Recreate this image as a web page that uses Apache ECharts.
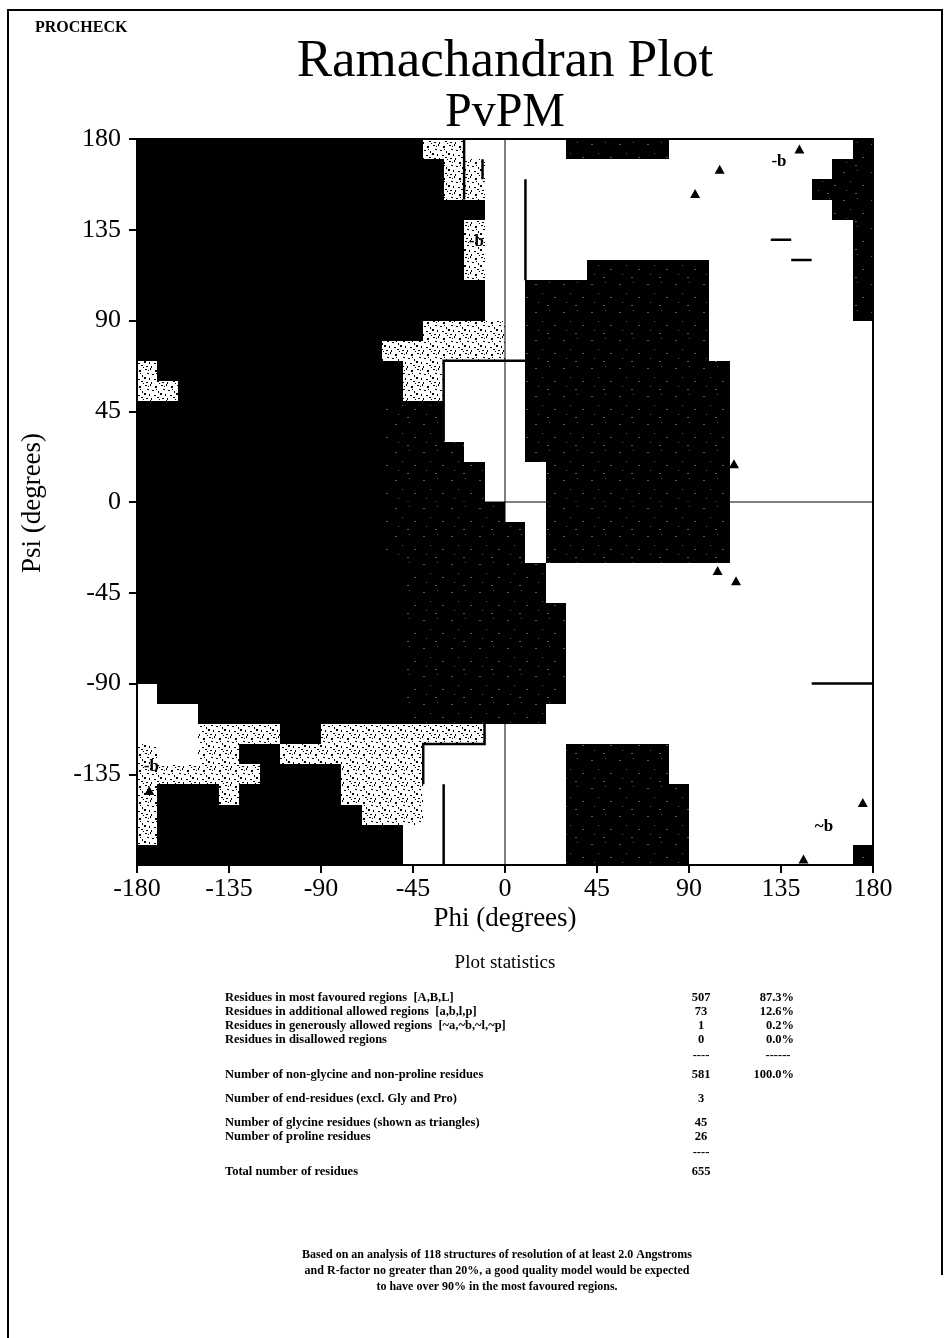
<!DOCTYPE html>
<html><head><meta charset="utf-8">
<script src="https://cdn.jsdelivr.net/npm/echarts@6/dist/echarts.min.js"></script>
<style>html,body{margin:0;padding:0;background:#fff}#c{width:950px;height:1338px}</style>
</head><body><div id="c"></div>
<script>
// ---------------- DATA ----------------
const axisTicks = [-180, -135, -90, -45, 0, 45, 90, 135, 180];
// lower-left phi of each 10-degree column
const phiBins = [-180,-170,-160,-150,-140,-130,-120,-110,-100,-90,-80,-70,-60,-50,-40,-30,-20,-10,0,10,20,30,40,50,60,70,80,90,100,110,120,130,140,150,160,170];
// lower psi of each row (top row first)
const psiBins = [170,160,150,140,130,120,110,100,90,80,70,60,50,40,30,20,10,0,-10,-20,-30,-40,-50,-60,-70,-80,-90,-100,-110,-120,-130,-140,-150,-160,-170,-180];
// region classes: c = most favoured, a = additional allowed, g = generously allowed, . = disallowed
const regionRows = [
  "ccccccccccccccgg.....aaaaa.........a",
  "cccccccccccccccgg.................aa",
  "cccccccccccccccgg................aaa",
  "ccccccccccccccccc.................aa",
  "ccccccccccccccccg..................a",
  "ccccccccccccccccg..................a",
  "ccccccccccccccccg.....aaaaaa.......a",
  "ccccccccccccccccc..aaaaaaaaa.......a",
  "ccccccccccccccccc..aaaaaaaaa.......a",
  "ccccccccccccccgggg.aaaaaaaaa........",
  "ccccccccccccgggggg.aaaaaaaaa........",
  "gccccccccccccgg....aaaaaaaaaa.......",
  "ggcccccccccccgg....aaaaaaaaaa.......",
  "ccccccccccccaaa....aaaaaaaaaa.......",
  "ccccccccccccaaa....aaaaaaaaaa.......",
  "ccccccccccccaaaa...aaaaaaaaaa.......",
  "ccccccccccccaaaaa...aaaaaaaaa.......",
  "ccccccccccccaaaaa...aaaaaaaaa.......",
  "ccccccccccccaaaaaa..aaaaaaaaa.......",
  "ccccccccccccaaaaaaa.aaaaaaaaa.......",
  "ccccccccccccaaaaaaa.aaaaaaaaa.......",
  "cccccccccccccaaaaaaa................",
  "cccccccccccccaaaaaaa................",
  "cccccccccccccaaaaaaaa...............",
  "cccccccccccccaaaaaaaa...............",
  "cccccccccccccaaaaaaaa...............",
  "cccccccccccccaaaaaaaa...............",
  ".ccccccccccccaaaaaaaa...............",
  "...ccccccccccaaaaaaa................",
  "...ggggccgggggggg...................",
  "g..ggccggggggg.......aaaaa..........",
  "ggggggccccgggg.......aaaaa..........",
  "gcccgcccccgggg.......aaaaaa.........",
  "gccccccccccggg.......aaaaaa.........",
  "gcccccccccccc........aaaaaa.........",
  "ccccccccccccc........aaaaaa........a"
];
// region boundary lines (phi, psi)
const boundaryLines = [
  [[10, 160], [10, 110]],
  [[-30, 30], [-30, 70], [10, 70]],
  [[-20, 180], [-20, 150]],
  [[-11, 170], [-11, 160]],
  [[-10, -110], [-10, -120], [-40, -120], [-40, -140]],
  [[-30, -140], [-30, -180]],
  [[150, -90], [180, -90]],
  [[130, 130], [140, 130]],
  [[140, 120], [150, 120]]
];
const zeroLines = [
  [[0, -180], [0, 180]],
  [[-180, 0], [180, 0]]
];
// glycine residues (triangles): phi, psi
const glyPhi = [144, 105, 93, 112, 104, 113, 175, 146, -174];
const glyPsi = [175, 165, 153, 19, -34, -39, -149, -177, -143];
// region labels
const labelText = ["-b", "-b", "-b", "~b"];
const labelPhi = [-14, 134, -173, 156];
const labelPsi = [129, 169, -131, -161];
// statistics
const statLabels = [
  "Residues in most favoured regions  [A,B,L]",
  "Residues in additional allowed regions  [a,b,l,p]",
  "Residues in generously allowed regions  [~a,~b,~l,~p]",
  "Residues in disallowed regions",
  "Number of non-glycine and non-proline residues",
  "Number of end-residues (excl. Gly and Pro)",
  "Number of glycine residues (shown as triangles)",
  "Number of proline residues",
  "Total number of residues"
];
const statCounts = ["507", "73", "1", "0", "581", "3", "45", "26", "655"];
const statPercents = ["87.3%", "12.6%", "0.2%", "0.0%", "100.0%", "", "", "", ""];
const footnote = [
  "Based on an analysis of 118 structures of resolution of at least 2.0 Angstroms",
  "and R-factor no greater than 20%, a good quality model would be expected",
  "to have over 90% in the most favoured regions."
];

// ---------------- BUILD ----------------
const SERIF = "'Liberation Serif','Times New Roman',serif";
const kinds = { g: 0, a: 1, c: 2 };
const cells = [];
regionRows.forEach((row, r) => {
  for (let i = 0; i < row.length && i < phiBins.length; i++) {
    const k = row[i];
    if (k !== '.') cells.push([phiBins[i], psiBins[r], kinds[k]]);
  }
});

// speckle texture for generously allowed regions (black flecks on white)
const pat = document.createElement('canvas');
pat.width = 16; pat.height = 16;
const pctx = pat.getContext('2d');
pctx.fillStyle = '#ffffff'; pctx.fillRect(0, 0, 16, 16);
pctx.fillStyle = '#000000';
[[1,1,2,1],[6,0,1,2],[11,2,2,2],[3,5,2,1],[8,6,2,1],[14,7,1,2],[0,9,2,2],[5,10,1,2],[10,11,2,1],[13,13,2,1],[2,14,2,1],[7,14,1,2],[4,2,1,1],[12,5,1,1],[15,15,1,1]].forEach(d => pctx.fillRect(d[0], d[1], d[2], d[3]));
// texture for additional allowed regions (sparse faint flecks on black)
const pat2 = document.createElement('canvas');
pat2.width = 28; pat2.height = 28;
const p2 = pat2.getContext('2d');
p2.fillStyle = '#000000'; p2.fillRect(0, 0, 28, 28);
p2.fillStyle = '#5a5a5a';
[[3,4,2,1],[17,2,1,1],[10,13,1,1],[22,17,2,1],[6,22,1,1],[15,25,2,1]].forEach(d => p2.fillRect(d[0], d[1], d[2], d[3]));
const fills = [{ image: pat, repeat: 'repeat' }, { image: pat2, repeat: 'repeat' }, '#000000'];

const statRowY = [998, 1012, 1026, 1040, 1075, 1099, 1123, 1137, 1172];
const TF = 'bold 12.5px ' + SERIF;
const graphics = [];
graphics.push({ type: 'text', left: 35, top: 20, style: { text: 'PROCHECK', font: 'bold 16px ' + SERIF, fill: '#000' } });
graphics.push({ type: 'text', x: 505, y: 62, style: { text: 'Ramachandran Plot', font: '53px ' + SERIF, fill: '#000', textAlign: 'center', textVerticalAlign: 'middle', verticalAlign: 'middle' } });
graphics.push({ type: 'text', x: 505, y: 113, style: { text: 'PvPM', font: '48px ' + SERIF, fill: '#000', textAlign: 'center', textVerticalAlign: 'middle', verticalAlign: 'middle' } });
graphics.push({ type: 'text', x: 505, y: 919, style: { text: 'Phi (degrees)', font: '27px ' + SERIF, fill: '#000', textAlign: 'center', textVerticalAlign: 'middle', verticalAlign: 'middle' } });
graphics.push({ type: 'text', x: 33, y: 503, rotation: Math.PI / 2, style: { text: 'Psi (degrees)', font: '27px ' + SERIF, fill: '#000', textAlign: 'center', textVerticalAlign: 'middle', verticalAlign: 'middle' } });
graphics.push({ type: 'text', x: 505, y: 963, style: { text: 'Plot statistics', font: '19px ' + SERIF, fill: '#000', textAlign: 'center', textVerticalAlign: 'middle', verticalAlign: 'middle' } });
statLabels.forEach((t, i) => {
  const y = statRowY[i];
  graphics.push({ type: 'text', x: 225, y: y, style: { text: t, font: TF, fill: '#000', textAlign: 'left', textVerticalAlign: 'middle', verticalAlign: 'middle' } });
  graphics.push({ type: 'text', x: 701, y: y, style: { text: statCounts[i], font: TF, fill: '#000', textAlign: 'center', textVerticalAlign: 'middle', verticalAlign: 'middle' } });
  if (statPercents[i]) graphics.push({ type: 'text', x: 794, y: y, style: { text: statPercents[i], font: TF, fill: '#000', textAlign: 'right', textVerticalAlign: 'middle', verticalAlign: 'middle' } });
});
[[701, 1056, '----'], [778, 1056, '------'], [701, 1153, '----']].forEach(d => {
  graphics.push({ type: 'text', x: d[0], y: d[1], style: { text: d[2], font: TF, fill: '#000', textAlign: 'center', textVerticalAlign: 'middle', verticalAlign: 'middle' } });
});
footnote.forEach((t, i) => {
  graphics.push({ type: 'text', x: 497, y: 1255 + i * 16, style: { text: t, font: 'bold 12px ' + SERIF, fill: '#000', textAlign: 'center', textVerticalAlign: 'middle', verticalAlign: 'middle' } });
});
// page frame
graphics.push({ type: 'polyline', shape: { points: [[8, 1338], [8, 10], [942, 10], [942, 1275]] }, style: { stroke: '#000', lineWidth: 2, fill: null } });

const chart = echarts.init(document.getElementById('c'), null, { renderer: 'canvas' });
const axisCommon = {
  type: 'value', min: -180, max: 180, interval: 45,
  splitLine: { show: false },
  axisLine: { show: true, onZero: false, lineStyle: { color: '#000', width: 2 } },
  axisTick: { show: true, inside: false, length: 8, lineStyle: { color: '#000', width: 2 } },
  axisLabel: { color: '#000', fontSize: 26, fontFamily: SERIF },
  z: 10
};
const frameAxis = {
  type: 'value', min: -180, max: 180,
  splitLine: { show: false },
  axisLine: { show: true, onZero: false, lineStyle: { color: '#000', width: 2 } },
  axisTick: { show: false }, axisLabel: { show: false }, z: 10
};
chart.setOption({
  animation: false,
  backgroundColor: '#fff',
  grid: { left: 137, top: 139, width: 736, height: 726, containLabel: false },
  xAxis: [
    Object.assign({}, axisCommon, { position: 'bottom', axisLabel: Object.assign({}, axisCommon.axisLabel, { margin: 11 }) }),
    Object.assign({}, frameAxis, { position: 'top' })
  ],
  yAxis: [
    Object.assign({}, axisCommon, { position: 'left', axisLabel: Object.assign({}, axisCommon.axisLabel, { margin: 16, showMinLabel: false }) }),
    Object.assign({}, frameAxis, { position: 'right' })
  ],
  graphic: graphics,
  series: [
    {
      type: 'custom', coordinateSystem: 'cartesian2d', data: cells, encode: { x: 0, y: 1 }, z: 1, silent: true, clip: true,
      renderItem: function (params, api) {
        const x0 = api.value(0), y0 = api.value(1), k = api.value(2);
        const p1 = api.coord([x0, y0 + 10]);
        const p2c = api.coord([x0 + 10, y0]);
        const x = Math.round(p1[0]), y = Math.round(p1[1]);
        return { type: 'rect', shape: { x: x, y: y, width: Math.round(p2c[0]) - x, height: Math.round(p2c[1]) - y }, style: { fill: fills[k] } };
      }
    },
    {
      type: 'lines', coordinateSystem: 'cartesian2d', polyline: true, silent: true, z: 3,
      lineStyle: { color: '#000', width: 1, opacity: 1 },
      data: zeroLines.map(c => ({ coords: c }))
    },
    {
      type: 'lines', coordinateSystem: 'cartesian2d', polyline: true, silent: true, z: 4,
      lineStyle: { color: '#000', width: 2.5, opacity: 1 },
      data: boundaryLines.map(c => ({ coords: c }))
    },
    {
      type: 'scatter', symbol: 'triangle', symbolSize: [10, 9], silent: true, z: 6,
      itemStyle: { color: '#000', opacity: 1 },
      data: glyPhi.map((p, i) => [p, glyPsi[i]])
    },
    {
      type: 'scatter', symbolSize: 1, silent: true, z: 6,
      itemStyle: { color: 'rgba(0,0,0,0)', opacity: 1 },
      label: { show: true, position: 'inside', formatter: p => p.data[2], color: '#000', fontSize: 17, fontWeight: 'bold', fontFamily: SERIF },
      data: labelPhi.map((p, i) => [p, labelPsi[i], labelText[i]])
    }
  ]
});
</script></body></html>
